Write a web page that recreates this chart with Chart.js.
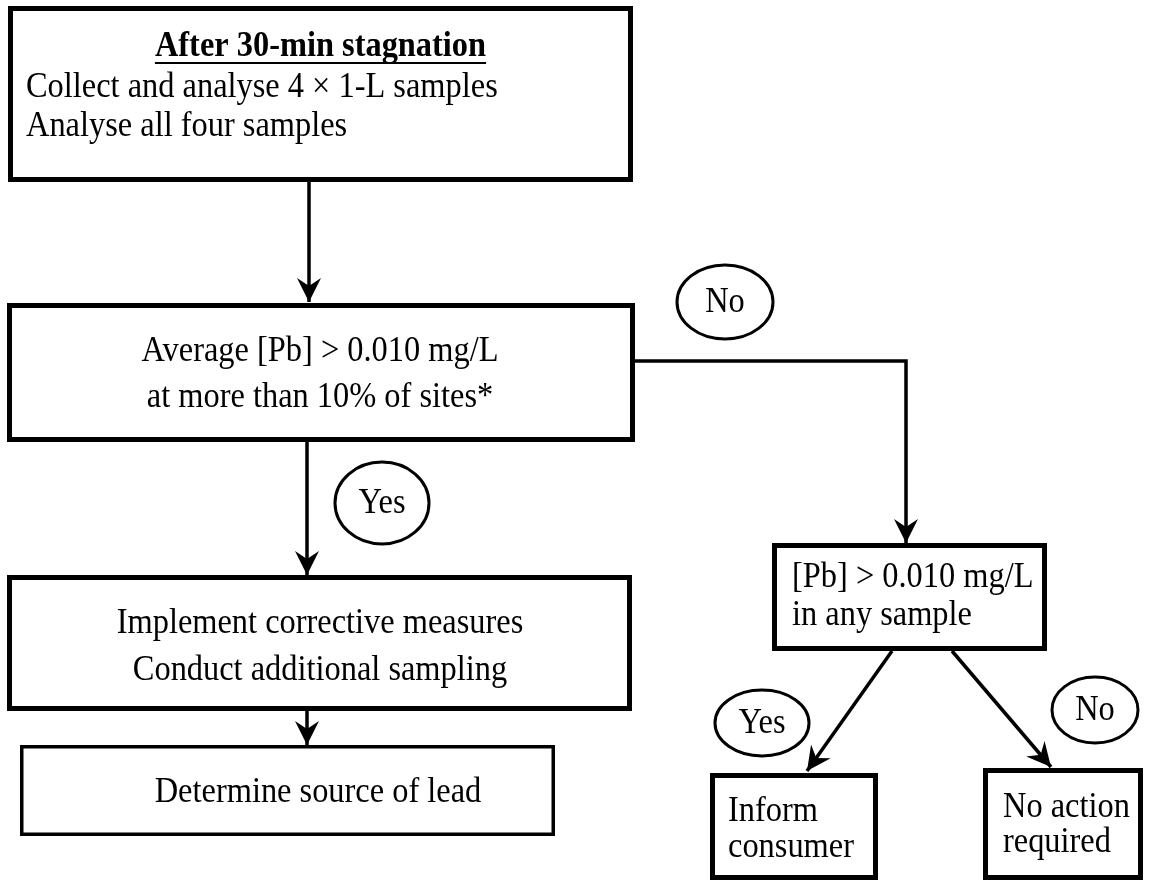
<!DOCTYPE html>
<html>
<head>
<meta charset="utf-8">
<script src="https://cdn.jsdelivr.net/npm/chart.js@4"></script>
<style>
  html, body { margin: 0; padding: 0; background: #fff; }
  #wrap { width: 1149px; height: 886px; position: relative; }
</style>
</head>
<body>
<div id="wrap"><canvas id="flow"></canvas></div>
<script>
// node texts (title line of the first box is bold + underlined)
const boxTitles = ['After 30-min stagnation', '', '', '', '', '', ''];
const boxLines = [
  ['Collect and analyse 4 \u00d7 1-L samples', 'Analyse all four samples'],
  ['Average [Pb] > 0.010 mg/L', 'at more than 10% of sites*'],
  ['Implement corrective measures', 'Conduct additional sampling'],
  ['Determine source of lead'],
  ['[Pb] > 0.010 mg/L', 'in any sample'],
  ['Inform', 'consumer'],
  ['No action', 'required']
];
const decisionLabels = ['No', 'Yes', 'Yes', 'No'];

// layout in page units (x right, y down)
const boxRects = [
  [8, 6, 633, 182], [7, 303, 635, 442], [7, 575, 632, 711], [20, 745, 555, 836],
  [772, 543, 1047, 651], [710, 773, 878, 880], [983, 768, 1143, 880]
];
const boxBorder = [5, 5, 5, 3.5, 5, 5, 5];
const textAlign = ['left', 'center', 'center', 'center', 'left', 'left', 'left'];
const textX = [26, 320, 320, 318, 792, 728, 1003];
const textY = [[88, 127], [352, 398], [624, 671], [793], [578, 616], [812, 848], [808, 843]];
const titleY = 47;
const ellipses = [[725, 302, 48, 37], [382, 503, 47, 41], [762, 723, 47, 33], [1095, 710, 43, 33]];
const connectors = [
  [[309, 182], [309, 302]],
  [[307, 442], [307, 575]],
  [[307, 711], [307, 745]],
  [[635, 361], [906, 361], [906, 543]],
  [[892, 651], [807, 771]],
  [[952, 651], [1051, 767]]
];

const FONT = '"Liberation Serif", "Times New Roman", serif';
const SQUEEZE = 0.9; // the source typeface is a bit narrower than Liberation Serif

function drawText(ctx, t, x, y, align) {
  ctx.save();
  ctx.translate(x, y);
  ctx.scale(SQUEEZE, 1);
  ctx.textAlign = align;
  ctx.fillText(t, 0, 0);
  ctx.restore();
}

const flowPlugin = {
  id: 'flow',
  afterDatasetsDraw(chart) {
    const ctx = chart.ctx;
    const xs = chart.scales.x, ys = chart.scales.y;
    const px = v => xs.getPixelForValue(v);
    const py = v => ys.getPixelForValue(v);
    ctx.save();
    ctx.fillStyle = '#000';
    ctx.strokeStyle = '#000';

    // arrowheads at the end of each connector
    chart.data.datasets.forEach((ds, i) => {
      const pts = chart.getDatasetMeta(i).data;
      const a = pts[pts.length - 2], b = pts[pts.length - 1];
      const ang = Math.atan2(b.y - a.y, b.x - a.x);
      const L = 24, W = 12, notch = 16;
      ctx.save();
      ctx.translate(b.x, b.y);
      ctx.rotate(ang);
      ctx.beginPath();
      ctx.moveTo(0, 0);
      ctx.lineTo(-L, -W);
      ctx.lineTo(-notch, 0);
      ctx.lineTo(-L, W);
      ctx.closePath();
      ctx.fill();
      ctx.restore();
    });

    // boxes
    boxRects.forEach((r, i) => {
      const x0 = px(r[0]), y0 = py(r[1]), x1 = px(r[2]), y1 = py(r[3]);
      const w = boxBorder[i];
      ctx.fillStyle = '#fff';
      ctx.fillRect(x0, y0, x1 - x0, y1 - y0);
      ctx.lineWidth = w;
      ctx.strokeRect(x0 + w / 2, y0 + w / 2, x1 - x0 - w, y1 - y0 - w);
    });

    // box text
    ctx.fillStyle = '#000';
    ctx.textBaseline = 'middle';
    boxLines.forEach((lines, i) => {
      ctx.font = '36px ' + FONT;
      lines.forEach((t, j) => drawText(ctx, t, px(textX[i]), py(textY[i][j]), textAlign[i]));
      if (boxTitles[i]) {
        ctx.font = 'bold 36px ' + FONT;
        const cx = px((boxRects[i][0] + boxRects[i][2]) / 2);
        drawText(ctx, boxTitles[i], cx, py(titleY), 'center');
        const tw = ctx.measureText(boxTitles[i]).width * SQUEEZE;
        ctx.fillRect(cx - tw / 2, py(titleY) + 15, tw, 2);
      }
    });

    // decision ellipses
    ellipses.forEach((e, i) => {
      ctx.beginPath();
      ctx.ellipse(px(e[0]), py(e[1]), e[2], e[3], 0, 0, Math.PI * 2);
      ctx.fillStyle = '#fff';
      ctx.fill();
      ctx.lineWidth = 3;
      ctx.stroke();
      ctx.fillStyle = '#000';
      ctx.font = '36px ' + FONT;
      drawText(ctx, decisionLabels[i], px(e[0]), py(e[1]) + 1, 'center');
    });
    ctx.restore();
  }
};

new Chart(document.getElementById('flow'), {
  type: 'scatter',
  data: {
    datasets: connectors.map(c => ({
      data: c.map(p => ({ x: p[0], y: p[1] })),
      showLine: true,
      borderColor: '#000',
      borderWidth: 3.5,
      pointRadius: 0,
      fill: false,
      tension: 0
    }))
  },
  options: {
    responsive: true,
    maintainAspectRatio: false,
    animation: false,
    events: [],
    layout: { padding: 0 },
    scales: {
      x: { type: 'linear', min: 0, max: 1149, display: false },
      y: { type: 'linear', min: 0, max: 886, reverse: true, display: false }
    },
    plugins: { legend: { display: false }, tooltip: { enabled: false } }
  },
  plugins: [flowPlugin]
});
</script>
</body>
</html>
